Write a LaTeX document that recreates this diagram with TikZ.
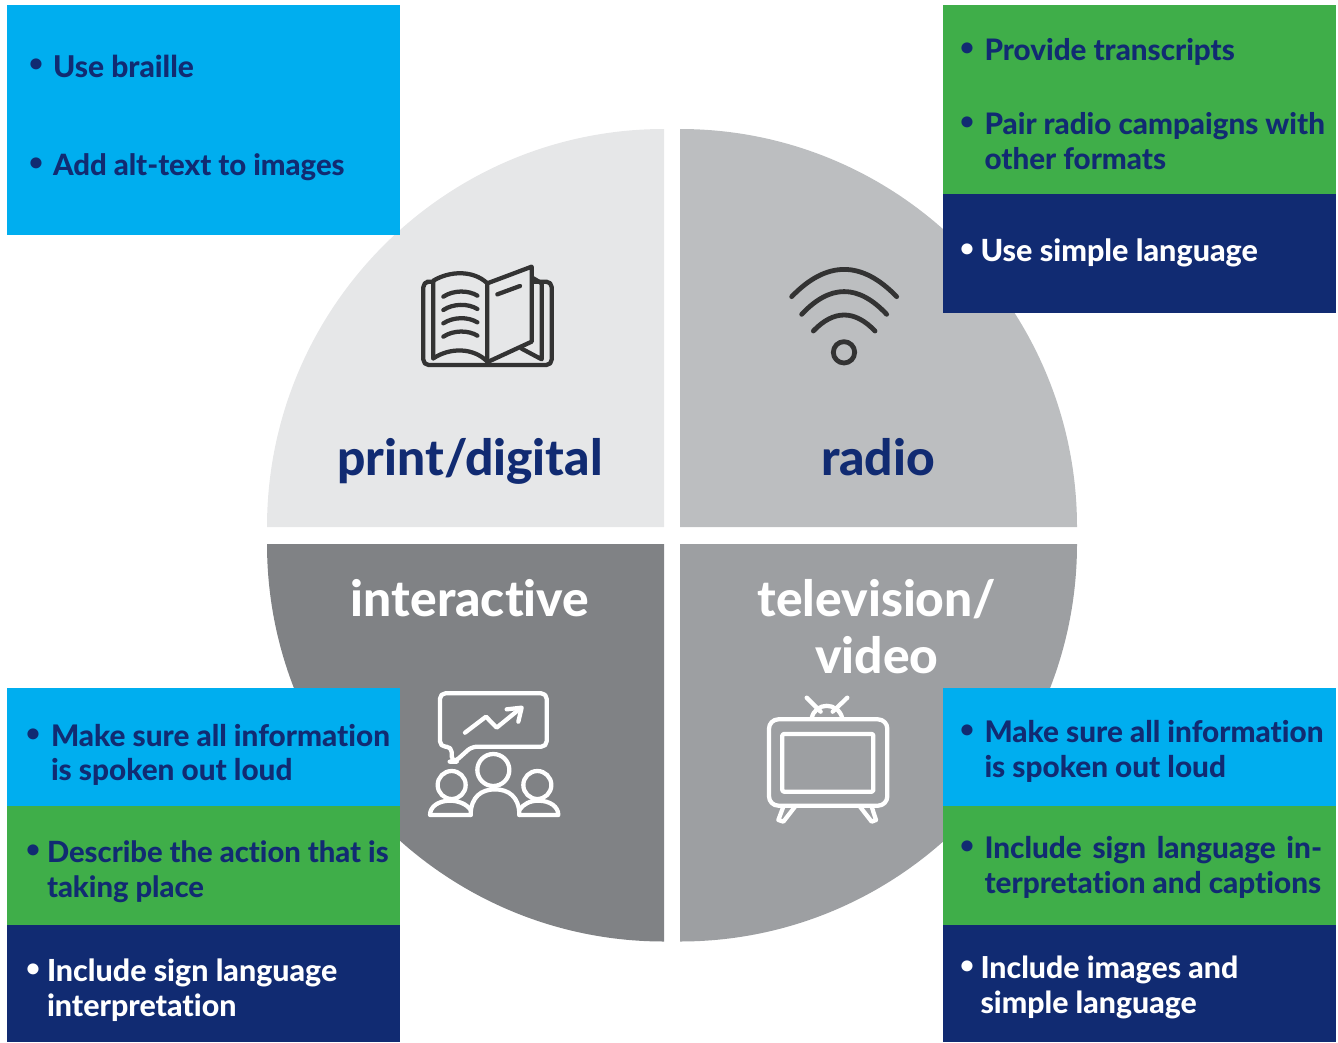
\documentclass[tikz,border=0pt]{standalone}
\usepackage{fontspec}
\setmainfont{Lato}[BoldFont={Lato Heavy},Ligatures={NoCommon}]
\definecolor{navy}{HTML}{112B72}
\definecolor{cyanbox}{HTML}{00AEEF}
\definecolor{greenbox}{HTML}{3FAE49}
\definecolor{qa}{HTML}{E6E7E8}
\definecolor{qb}{HTML}{BCBEC0}
\definecolor{qc}{HTML}{808285}
\definecolor{qd}{HTML}{9D9FA2}
\definecolor{icondark}{HTML}{333333}
\tikzset{
  px/.style={x=0.75pt,y=-0.75pt},
  zoomed/.style={x=0.25pt,y=-0.25pt},
  panel/.style={anchor=north west,inner sep=0pt,outer sep=0pt,minimum width=294.75pt},
  item/.style={anchor=west,inner sep=0pt,outer sep=0pt,align=left,font=\fontsize{#1}{26}\selectfont\bfseries},
  item/.default=22.3,
  bul/.style={anchor=center,inner sep=0pt,outer sep=0pt,font=\fontsize{18}{26}\selectfont\bfseries},
  title/.style={anchor=center,inner sep=0pt,outer sep=0pt,align=center,font=\fontsize{37.3}{42.5}\selectfont\bfseries},
  dicon/.style={draw=icondark,line width=3.2pt,line cap=round,line join=round},
  wicon/.style={draw=white,line width=3.2pt,line cap=round,line join=round},
}
\begin{document}
\begin{tikzpicture}[px]
\useasboundingbox (0,0) rectangle (1338,1042);
% quadrants
\fill[qa] (664,527) -- (267,527) .. controls (267,307.8) and (444.8,129) .. (664,129) -- cycle;
\fill[qb] (680,527) -- (680,129) .. controls (899.2,129) and (1077,307.8) .. (1077,527) -- cycle;
\fill[qc] (664,544) -- (267,544) .. controls (267,763.2) and (444.8,941.5) .. (664,941.5) -- cycle;
\fill[qd] (680,544) -- (680,941.5) .. controls (899.2,941.5) and (1077,763.2) .. (1077,544) -- cycle;
% titles
\node[title,text=navy] (tprint) at (470,461) {print/digital};
\node[title,text=navy] (tradio) at (878,457) {radio};
\node[title,text=white] (tinter) at (470,598) {interactive};
\node[title,text=white] (ttv) at (877,626.5) {television/\\video};
% book
\begin{scope}[shift={(400,250)},zoomed]
\draw[dicon] (100,95) -- (82,95) [rounded corners=4pt] -- (70,95) -- (70,345) -- (455,345) -- (455,95) -- (402,95);
\draw[dicon] (100,325) -- (100,92) .. controls (150,62) and (220,60) .. (262,100) -- (262,335);
\draw[dicon] (100,325) .. controls (150,292) and (220,292) .. (262,335);
\draw[dicon] (262,100) -- (395,50) -- (395,275) -- (265,335);
\draw[dicon] (400,85) -- (425,100) -- (425,328) -- (365,296);
\foreach \yy in {0,40,80,120}
  \draw[dicon] (130,140+\yy) .. controls (160,120+\yy) and (205,120+\yy) .. (232,137+\yy);
\draw[dicon] (292,133) -- (360,108);
\end{scope}
% wifi
\begin{scope}[shift={(770,250)},zoomed]
\draw[dicon,line width=3.6pt] (65,140) .. controls (170,31) and (275,31) .. (380,140);
\draw[dicon,line width=3.6pt] (95,193) .. controls (180,102) and (265,102) .. (350,193);
\draw[dicon,line width=3.6pt] (130,243) .. controls (191,179) and (254,179) .. (315,243);
\draw[dicon,line width=3.6pt] (222,307) circle[radius=8pt];
\end{scope}
% interactive icon
\begin{scope}[shift={(410,680)},zoomed]
\draw[wicon,rounded corners=4pt] (185,200) -- (410,200) -- (410,40) -- (90,40) -- (90,200) -- (125,200) -- (125,245) -- (135,245) -- cycle;
\draw[wicon] (165,158) -- (228,110) -- (260,143) -- (325,90);
\draw[wicon] (290,88) -- (335,83) -- (325,125);
\draw[wicon] (250,270) circle[radius=12pt];
\draw[wicon] (125,315) circle[radius=10.5pt];
\draw[wicon] (382,315) circle[radius=10.5pt];
\draw[wicon] (182,405) .. controls (182,350) and (215,328) .. (255,328) .. controls (295,328) and (328,350) .. (328,405);
\draw[wicon] (182,405) -- (60,405) .. controls (60,380) and (85,362) .. (120,362) .. controls (145,362) and (170,372) .. (182,390);
\draw[wicon] (328,405) -- (445,405) .. controls (445,380) and (420,362) .. (385,362) .. controls (360,362) and (340,372) .. (328,390);
\end{scope}
% tv icon
\begin{scope}[shift={(750,685)},zoomed]
\draw[wicon,rounded corners=7pt] (57,103) rectangle (412,362);
\draw[wicon,rounded corners=1pt] (97,147) rectangle (370,320);
\draw[wicon] (170,38) -- (212,80);
\draw[wicon] (292,38) -- (248,80);
\draw[wicon] (185,100) .. controls (195,50) and (265,50) .. (277,100);
\draw[wicon] (100,365) -- (85,405) -- (100,410) -- (135,365);
\draw[wicon] (330,365) -- (365,410) -- (378,405) -- (365,365);
\end{scope}
% panels
\node[panel,fill=cyanbox,minimum height=172.5pt] (p1) at (7,5) {};
\node[panel,fill=greenbox,minimum height=141.75pt] (p2) at (943,5) {};
\node[panel,fill=navy,minimum height=89.25pt] (p3) at (943,194) {};
\node[panel,fill=cyanbox,minimum height=88.5pt] (p4) at (7,688) {};
\node[panel,fill=greenbox,minimum height=89.25pt] (p5) at (7,806) {};
\node[panel,fill=navy,minimum height=87.75pt] (p6) at (7,925) {};
\node[panel,fill=cyanbox,minimum height=88.5pt] (p7) at (943,688) {};
\node[panel,fill=greenbox,minimum height=89.25pt] (p8) at (943,806) {};
\node[panel,fill=navy,minimum height=87.75pt] (p9) at (943,925) {};
% text
\node[bul,text=navy] (b1) at (36,65) {•};
\node[item=22.5,text=navy] (i1) at (53,66.5) {Use braille};
\node[bul,text=navy] (b2) at (36,164) {•};
\node[item=22,text=navy] (i2) at (53,167) {Add alt-text to images};
\node[bul,text=navy] (b3) at (967,49) {•};
\node[item=22.2,text=navy] (i3) at (984.5,52) {Provide transcripts};
\node[bul,text=navy] (b4) at (967,123) {•};
\node[item=22.2,text=navy] (i4) at (984.5,141) {Pair radio campaigns with\\other formats};
\node[bul,text=white] (b5) at (967,250) {•};
\node[item=22.9,text=white] (i5) at (980.5,253) {Use simple language};
\node[bul,text=navy] (b6) at (33,735) {•};
\node[item,text=navy] (i6) at (51,755) {Make sure all information\\is spoken out loud};
\node[bul,text=navy] (b7) at (33,851) {•};
\node[item=21.9,text=navy] (i7) at (47,871.5) {Describe the action that is\\taking place};
\node[bul,text=white] (b8) at (33,970) {•};
\node[item=22.8,text=white] (i8) at (47,990.5) {Include sign language\\interpretation};
\node[bul,text=navy] (b9) at (967,731) {•};
\node[item,text=navy] (i9) at (984.5,751.5) {Make sure all information\\is spoken out loud};
\node[bul,text=navy] (b10) at (967,847) {•};
\node[item,text=navy] (i10) at (984.5,867.5) {Include \hspace{2.7pt}sign \hspace{2.7pt}language \hspace{2.7pt}in-\\terpretation and captions};
\node[bul,text=white] (b11) at (967,967) {•};
\node[item=22.7,text=white] (i11) at (980.5,987.5) {Include images and\\simple language};
\end{tikzpicture}
\end{document}
